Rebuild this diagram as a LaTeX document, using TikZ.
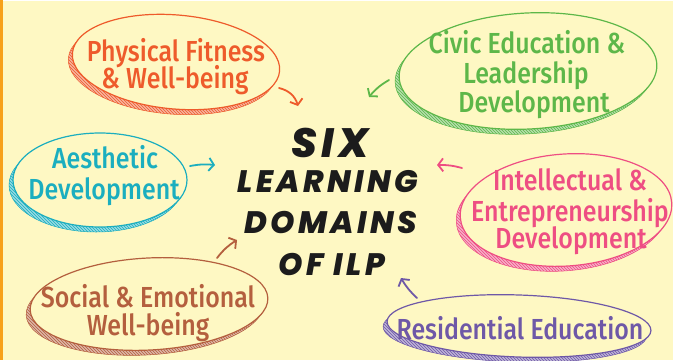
\documentclass[tikz,border=0pt]{standalone}
\usepackage{fontspec}
\usetikzlibrary{shapes.geometric,arrows.meta,patterns}
\IfFontExistsTF{Fira Sans Medium}{\newfontfamily\lblfont{Fira Sans Medium}[FakeStretch=0.86]}{\newfontfamily\lblfont{Fira Sans}[FakeStretch=0.86]}
\IfFontExistsTF{Poppins ExtraBold Italic}{\newfontfamily\ttlfont{Poppins ExtraBold Italic}[LetterSpace=11]\def\ttlshape{}}{\newfontfamily\ttlfont{Poppins}[LetterSpace=11,FakeBold=1.5]\def\ttlshape{\bfseries\itshape}}
\definecolor{bg}{HTML}{FEF8C3}
\definecolor{bar}{HTML}{F7A11A}
\definecolor{cphys}{HTML}{EE5B2B}
\definecolor{caes}{HTML}{1BAEBF}
\definecolor{cciv}{HTML}{5DB749}
\definecolor{cint}{HTML}{EE4E83}
\definecolor{csoc}{HTML}{B45F3E}
\definecolor{cres}{HTML}{6E58A7}
\definecolor{ink}{HTML}{1C1C1C}
\tikzset{
  bubble/.style={ellipse, draw=#1, line width=1.2pt, fill=bg, inner sep=0pt},
  bubshadow/.style={ellipse, draw=#1, line width=0.5pt, fill=#1!45, inner sep=0pt,
    postaction={pattern=north west lines, pattern color=#1}},
  lbl/.style={text=#1, font=\lblfont\fontsize{29}{30}\selectfont, anchor=base, inner sep=0pt},
  ttl/.style={text=ink, font=\ttlfont\ttlshape\fontsize{#1}{#1}\selectfont, anchor=base, inner sep=0pt},
  arr/.style={draw=#1, line width=1.8pt, line cap=round,
    -{Straight Barb[length=5pt,width=13pt,line width=1.8pt]}},
}
\newcommand\bub[7]{%
  \node[bubshadow=#7, minimum width=#4pt, minimum height=#5pt, rotate=#6] (#1s) at (#2-4,#3+5) {};
  \node[bubble=#7, minimum width=#4pt, minimum height=#5pt, rotate=#6] (#1) at (#2,#3) {};
}
\begin{document}
\begin{tikzpicture}[x=1pt,y=-1pt]
\useasboundingbox (0,0) rectangle (674,360);
\fill[bg] (0,0) rectangle (674,360);
\fill[white] (0,0) rectangle (674,1);
\fill[white] (673,0) rectangle (674,360);
\fill[bar] (0,0) rectangle (3,360);

% bubbles
\bub{phys}{176}{62}{208}{94}{-5}{cphys}
\bub{aes}{100}{180}{174}{94}{0}{caes}
\bub{civ}{528}{71}{258}{116}{3}{cciv}
\bub{int}{566}{210}{212}{112}{4}{cint}
\bub{soc}{149}{304}{238}{92}{3}{csoc}
\bub{res}{519}{326}{264}{62}{-2}{cres}

% labels
\node[lbl=cphys] (phys1) at (176,61) {Physical Fitness};
\node[lbl=cphys] (phys2) at (175,88) {\& Well-being};
\node[lbl=caes] (aes1) at (105,168) {Aesthetic};
\node[lbl=caes] (aes2) at (104,199) {Development};
\node[lbl=cciv] (civ1) at (527,53) {Civic Education \&};
\node[lbl=cciv] (civ2) at (526,83) {Leadership};
\node[lbl=cciv] (civ3) at (534,112) {Development};
\node[lbl=cint] (int1) at (570,190) {Intellectual \&};
\node[lbl=cint] (int2) at (570,221) {Entrepreneurship};
\node[lbl=cint] (int3) at (571,248) {Development};
\node[lbl=csoc] (soc1) at (148,307) {Social \& Emotional};
\node[lbl=csoc] (soc2) at (148,335) {Well-being};
\node[lbl=cres] (res1) at (520,339) {Residential Education};

% title
\node[ttl=41] (t1) at (330,157) {SIX};
\node[ttl=31] (t2) at (328,192) {LEARNING};
\node[ttl=31] (t3) at (331,233) {DOMAINS};
\node[ttl=31] (t4) at (332,275) {OF ILP};

% arrows
\coordinate (pa) at (279,88);  \coordinate (pb) at (298,106);
\coordinate (aa) at (190,166); \coordinate (ab) at (215,165);
\coordinate (ca) at (389,80);  \coordinate (cb) at (369,97);
\coordinate (ia) at (462,168); \coordinate (ib) at (437,165);
\coordinate (sa) at (217,258); \coordinate (sb) at (237,240);
\coordinate (ra) at (417,298); \coordinate (rb) at (401,278);
\draw[arr=cphys] (pa) to[bend left=30] (pb);
\draw[arr=caes] (aa) to[bend left=8] (ab);
\draw[arr=cciv] (ca) to[bend right=10] (cb);
\draw[arr=cint] (ia) to[bend right=8] (ib);
\draw[arr=csoc] (sa) to[bend left=10] (sb);
\draw[arr=cres] (ra) to[bend left=8] (rb);
\end{tikzpicture}
\end{document}
